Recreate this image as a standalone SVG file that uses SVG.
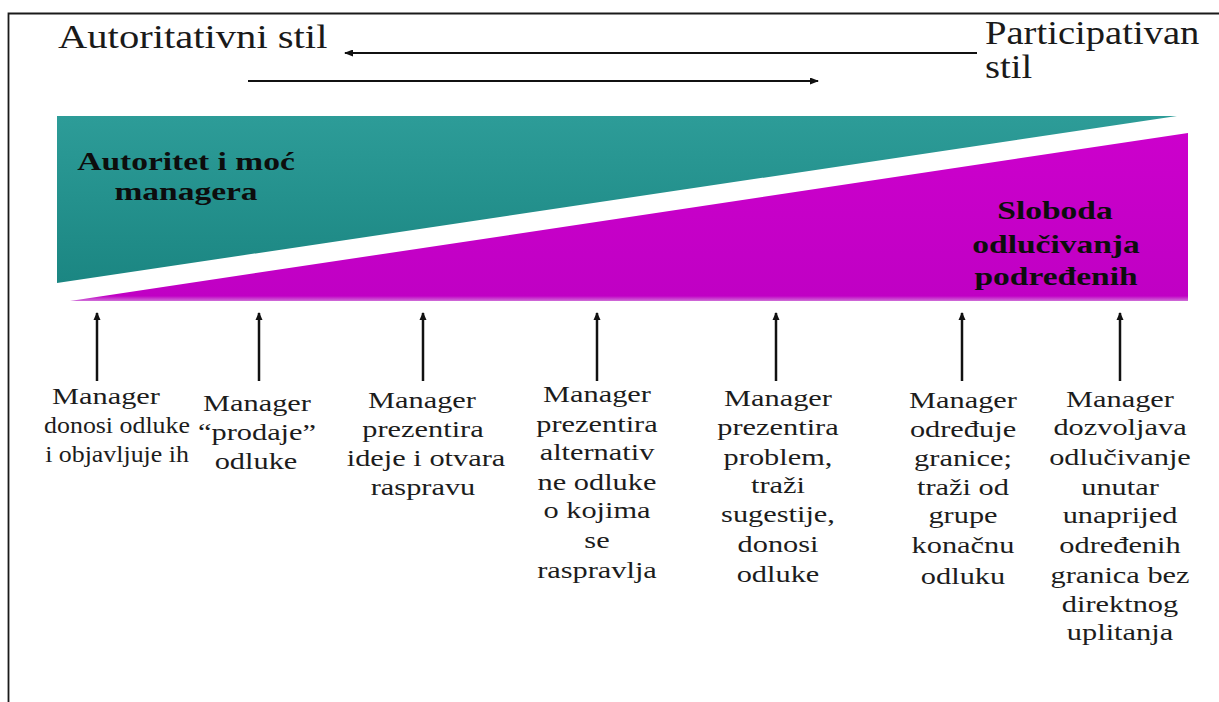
<svg xmlns="http://www.w3.org/2000/svg" width="1219" height="702" viewBox="0 0 1219 702" font-family="Liberation Serif, Times New Roman, serif">
<style>
.ttl{font-size:33px;fill:#1a1a1a}
.bold{font-size:25px;font-weight:bold;fill:#0d0d0d}
.lbl{font-size:22.5px;fill:#1c1c1c;text-anchor:middle}
.conn line{stroke:#111;fill:none}
</style>
<defs>
<linearGradient id="teal" x1="0" y1="0" x2="0" y2="1">
<stop offset="0" stop-color="#2d9c98"/>
<stop offset="1" stop-color="#1b8682"/>
</linearGradient>
<linearGradient id="mag" x1="0" y1="0" x2="0" y2="1">
<stop offset="0" stop-color="#cc00cc"/>
<stop offset="0.97" stop-color="#c000c4"/>
<stop offset="1" stop-color="#d070d8"/>
</linearGradient>
<marker id="ah" markerWidth="9" markerHeight="7" refX="8" refY="3.5" orient="auto" markerUnits="userSpaceOnUse">
<path d="M0,0 L9,3.5 L0,7 z" fill="#111"/>
</marker>
<marker id="ahv" markerWidth="8" markerHeight="8" refX="7" refY="4" orient="auto" markerUnits="userSpaceOnUse">
<path d="M0,0.5 L8,4 L0,7.5 z" fill="#111"/>
</marker>
</defs>
<rect width="1219" height="702" fill="#fff"/>
<g id="frame" fill="none" stroke="#1a1a1a" stroke-width="1.8">
<path d="M8.5,702 V13.5 H1219"/>
</g>

<g id="title-left">
<text class="ttl" transform="translate(58 48) scale(1.23 1)">Autoritativni stil</text>
</g>
<g id="title-right">
<text class="ttl" transform="translate(985 44) scale(1.17 1)">Participativan</text>
<text class="ttl" transform="translate(985 78) scale(1.17 1)">stil</text>
</g>

<g id="authority">
<polygon points="57,116 1177,116 57,283" fill="url(#teal)"/>
<text class="bold" text-anchor="middle" transform="translate(186 170) scale(1.34 1)">Autoritet i moć</text>
<text class="bold" text-anchor="middle" transform="translate(186 200) scale(1.34 1)">managera</text>
</g>
<g id="freedom">
<polygon points="70,301 1188,133 1188,301" fill="url(#mag)"/>
<text class="bold" text-anchor="middle" transform="translate(1055 219) scale(1.34 1)">Sloboda</text>
<text class="bold" text-anchor="middle" transform="translate(1056 253) scale(1.34 1)">odlučivanja</text>
<text class="bold" text-anchor="middle" transform="translate(1056 285) scale(1.34 1)">podređenih</text>
</g>

<g id="connectors" class="conn">
<line x1="977" y1="53" x2="345" y2="53" stroke-width="2" marker-end="url(#ah)"/>
<line x1="248" y1="81" x2="818" y2="81" stroke-width="2" marker-end="url(#ah)"/>
<line x1="97" y1="381" x2="97" y2="313" stroke-width="2.5" marker-end="url(#ahv)"/>
<line x1="259" y1="381" x2="259" y2="313" stroke-width="2.5" marker-end="url(#ahv)"/>
<line x1="423" y1="381" x2="423" y2="313" stroke-width="2.5" marker-end="url(#ahv)"/>
<line x1="597" y1="381" x2="597" y2="313" stroke-width="2.5" marker-end="url(#ahv)"/>
<line x1="776" y1="381" x2="776" y2="313" stroke-width="2.5" marker-end="url(#ahv)"/>
<line x1="962" y1="381" x2="962" y2="313" stroke-width="2.5" marker-end="url(#ahv)"/>
<line x1="1120" y1="381" x2="1120" y2="313" stroke-width="2.5" marker-end="url(#ahv)"/>
</g>

<g id="label1">
<text class="lbl" transform="translate(106 404) scale(1.35 1)">Manager</text>
<text class="lbl" transform="translate(117 433) scale(1.15 1)">donosi odluke</text>
<text class="lbl" transform="translate(117 462) scale(1.15 1)">i objavljuje ih</text>
</g>
<g id="label2">
<text class="lbl" transform="translate(257 411) scale(1.35 1)">Manager</text>
<text class="lbl" transform="translate(257 440) scale(1.35 1)">“prodaje”</text>
<text class="lbl" transform="translate(256 469) scale(1.35 1)">odluke</text>
</g>
<g id="label3">
<text class="lbl" transform="translate(422 408) scale(1.35 1)">Manager</text>
<text class="lbl" transform="translate(423 437) scale(1.35 1)">prezentira</text>
<text class="lbl" transform="translate(426 466) scale(1.35 1)">ideje i otvara</text>
<text class="lbl" transform="translate(423 495) scale(1.35 1)">raspravu</text>
</g>
<g id="label4">
<text class="lbl" transform="translate(597 402) scale(1.35 1)">Manager</text>
<text class="lbl" transform="translate(597 432) scale(1.35 1)">prezentira</text>
<text class="lbl" transform="translate(597 460) scale(1.35 1)">alternativ</text>
<text class="lbl" transform="translate(597 490) scale(1.35 1)">ne odluke</text>
<text class="lbl" transform="translate(597 518) scale(1.35 1)">o kojima</text>
<text class="lbl" transform="translate(597 548) scale(1.35 1)">se</text>
<text class="lbl" transform="translate(597 578) scale(1.35 1)">raspravlja</text>
</g>
<g id="label5">
<text class="lbl" transform="translate(778 406) scale(1.35 1)">Manager</text>
<text class="lbl" transform="translate(778 435) scale(1.35 1)">prezentira</text>
<text class="lbl" transform="translate(778 465) scale(1.35 1)">problem,</text>
<text class="lbl" transform="translate(778 493) scale(1.35 1)">traži</text>
<text class="lbl" transform="translate(778 522) scale(1.35 1)">sugestije,</text>
<text class="lbl" transform="translate(778 552) scale(1.35 1)">donosi</text>
<text class="lbl" transform="translate(778 582) scale(1.35 1)">odluke</text>
</g>
<g id="label6">
<text class="lbl" transform="translate(963 408) scale(1.35 1)">Manager</text>
<text class="lbl" transform="translate(963 437) scale(1.35 1)">određuje</text>
<text class="lbl" transform="translate(963 466) scale(1.35 1)">granice;</text>
<text class="lbl" transform="translate(963 495) scale(1.35 1)">traži od</text>
<text class="lbl" transform="translate(963 523) scale(1.35 1)">grupe</text>
<text class="lbl" transform="translate(963 553) scale(1.35 1)">konačnu</text>
<text class="lbl" transform="translate(963 584) scale(1.35 1)">odluku</text>
</g>
<g id="label7">
<text class="lbl" transform="translate(1120 407) scale(1.35 1)">Manager</text>
<text class="lbl" transform="translate(1120 435) scale(1.35 1)">dozvoljava</text>
<text class="lbl" transform="translate(1120 465) scale(1.35 1)">odlučivanje</text>
<text class="lbl" transform="translate(1120 495) scale(1.35 1)">unutar</text>
<text class="lbl" transform="translate(1120 523) scale(1.35 1)">unaprijed</text>
<text class="lbl" transform="translate(1120 553) scale(1.35 1)">određenih</text>
<text class="lbl" transform="translate(1120 583) scale(1.35 1)">granica bez</text>
<text class="lbl" transform="translate(1120 612) scale(1.35 1)">direktnog</text>
<text class="lbl" transform="translate(1120 640) scale(1.35 1)">uplitanja</text>
</g>
</svg>
